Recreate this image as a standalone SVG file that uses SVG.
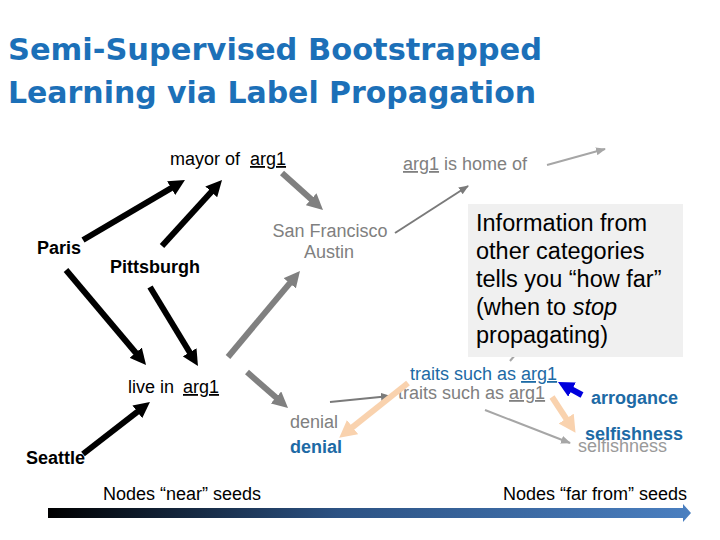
<svg xmlns="http://www.w3.org/2000/svg" width="720" height="540" viewBox="0 0 720 540">
<style>
text{font-family:"Liberation Sans",Arial,sans-serif;font-size:18px}
.title{font-family:"Comic Sans MS","DejaVu Sans",sans-serif;font-weight:bold;font-size:31px;fill:#1c70b8}
.b{font-weight:bold}
.k{fill:#000}
.g{fill:#808080}
.lg{fill:#9a9a9a}
.bl{fill:#1d6aa5}
.u{text-decoration:underline}
.box{font-size:23.5px;fill:#000}
.thick{fill:none;stroke-width:6}
.thin{fill:none;stroke-width:2}
</style>
<defs>
<marker id="hk" markerUnits="userSpaceOnUse" markerWidth="16" markerHeight="16" refX="2" refY="8" orient="auto"><path d="M0,0 L16,8 L0,16 z" fill="#000"/></marker>
<marker id="hg" markerUnits="userSpaceOnUse" markerWidth="16" markerHeight="16" refX="2" refY="8" orient="auto"><path d="M0,0 L16,8 L0,16 z" fill="#808080"/></marker>
<marker id="hp" markerUnits="userSpaceOnUse" markerWidth="17" markerHeight="18" refX="2" refY="9" orient="auto"><path d="M0,0 L17,9 L0,18 z" fill="#f9d2ae"/></marker>
<marker id="hb" markerUnits="userSpaceOnUse" markerWidth="16" markerHeight="16" refX="2" refY="8" orient="auto"><path d="M0,0 L16,8 L0,16 z" fill="#0000dd"/></marker>
<marker id="tg" markerUnits="userSpaceOnUse" markerWidth="10" markerHeight="8" refX="9" refY="4" orient="auto"><path d="M0,0 L10,4 L0,8 z" fill="#7a7a7a"/></marker>
<marker id="tl" markerUnits="userSpaceOnUse" markerWidth="10" markerHeight="8" refX="9" refY="4" orient="auto"><path d="M0,0 L10,4 L0,8 z" fill="#a6a6a6"/></marker>
<linearGradient id="bar" x1="0" y1="0" x2="1" y2="0">
<stop offset="0" stop-color="#000"/>
<stop offset="0.45" stop-color="#2c5283"/>
<stop offset="1" stop-color="#4a7fc0"/>
</linearGradient>
</defs>
<rect width="720" height="540" fill="#fff"/>
<g id="title">
<text class="title" x="8" y="60" textLength="534" lengthAdjust="spacingAndGlyphs">Semi-Supervised Bootstrapped</text>
<text class="title" x="8" y="103" textLength="528" lengthAdjust="spacingAndGlyphs">Learning via Label Propagation</text>
</g>
<g id="connectors">
<path class="thick" stroke="#000" d="M83,240 L172.9,187.1" marker-end="url(#hk)"/>
<path class="thick" stroke="#000" d="M162,246 L212.6,190.4" marker-end="url(#hk)"/>
<path class="thick" stroke="#000" d="M66,270 L137,354.3" marker-end="url(#hk)"/>
<path class="thick" stroke="#000" d="M150,287 L190.7,354" marker-end="url(#hk)"/>
<path class="thick" stroke="#000" d="M83,454 L138.9,410.6" marker-end="url(#hk)"/>
<path class="thick" stroke="#808080" d="M282,173 L312.6,200.6" marker-end="url(#hg)"/>
<path class="thick" stroke="#808080" d="M228,357 L291,281.7" marker-end="url(#hg)"/>
<path class="thick" stroke="#808080" d="M247,372 L277.5,398.8" marker-end="url(#hg)"/>
<path class="thin" stroke="#7a7a7a" d="M395,233 L468,186" marker-end="url(#tg)"/>
<path class="thin" stroke="#a6a6a6" d="M547,165 L605,149" marker-end="url(#tl)"/>
<path class="thin" stroke="#7a7a7a" d="M330,402 L390,396" marker-end="url(#tg)"/>
<path class="thin" stroke="#a6a6a6" d="M485,410 L570,443" marker-end="url(#tl)"/>
<path class="thin" stroke="#a6a6a6" d="M510,361 L515,355"/>
</g>
<g id="infobox">
<rect x="468" y="204" width="215" height="153" fill="#f0f0f0"/>
<text class="box" x="476" y="231">Information from</text>
<text class="box" x="476" y="259">other categories</text>
<text class="box" x="476" y="287">tells you “how far”</text>
<text class="box" x="476" y="315">(when to <tspan font-style="italic">stop</tspan></text>
<text class="box" x="476" y="343">propagating)</text>
</g>
<g id="mayor"><text class="k" x="170" y="165">mayor of <tspan class="u" x="250">arg1</tspan></text></g>
<g id="homeof"><text class="g" x="403" y="170"><tspan class="u">arg1</tspan> is home of</text></g>
<g id="paris"><text class="k b" x="37" y="254">Paris</text></g>
<g id="pittsburgh"><text class="k b" x="110" y="273">Pittsburgh</text></g>
<g id="sf"><text class="g" x="330" y="237" text-anchor="middle">San Francisco</text><text class="g" x="329" y="258" text-anchor="middle">Austin</text></g>
<g id="livein"><text class="k" x="128" y="393">live in <tspan class="u" x="183">arg1</tspan></text></g>
<g id="seattle"><text class="k b" x="26" y="464">Seattle</text></g>
<g id="denial"><text class="g" x="290" y="428">denial</text><text class="bl b" x="290" y="453">denial</text></g>
<g id="traits"><text class="g" x="398" y="399">traits such as <tspan class="u">arg1</tspan></text></g>
<g id="peach">
<path class="thick" stroke="#f9d2ae" stroke-width="7" d="M408,383 L351,428.3" marker-end="url(#hp)"/>
<path class="thick" stroke="#f9d2ae" stroke-width="7" d="M552,397 L567.3,420.3" marker-end="url(#hp)"/>
<path class="thick" stroke="#0000dd" d="M582,395 L570.3,388.7" marker-end="url(#hb)"/>
</g>
<g id="traits-blue"><text class="bl" x="410" y="380">traits such as <tspan class="u">arg1</tspan></text></g>
<g id="arrogance"><text class="bl b" x="591" y="404">arrogance</text></g>
<g id="selfishness"><text class="lg" x="578" y="452">selfishness</text><text class="bl b" x="585" y="440">selfishness</text></g>
<g id="axis">
<text class="k" x="103" y="500">Nodes “near” seeds</text>
<text class="k" x="503" y="500">Nodes “far from” seeds</text>
<path d="M48,508 L683,508 L683,504 L691,513 L683,522 L683,518 L48,518 z" fill="url(#bar)"/>
</g>
</svg>
